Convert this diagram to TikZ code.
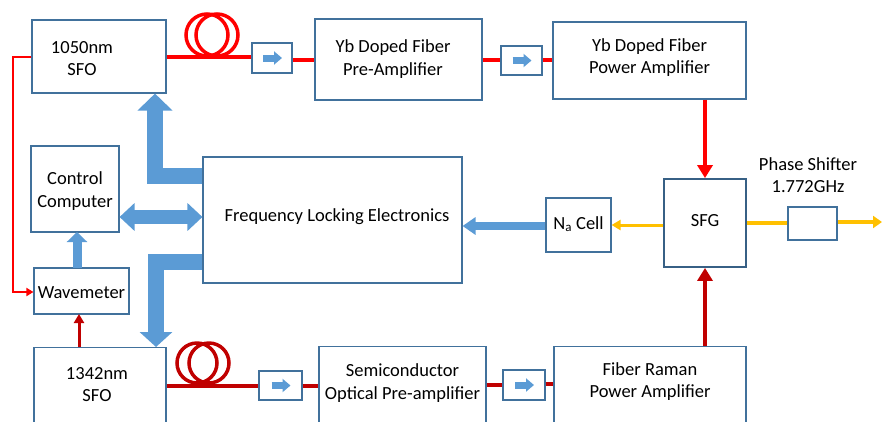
\documentclass[tikz,border=0pt]{standalone}
\usepackage{fontspec}
\setmainfont{Carlito}
\usetikzlibrary{arrows.meta,calc}
\definecolor{boxblue}{HTML}{41719C}
\definecolor{fillblue}{HTML}{5B9BD5}
\definecolor{lred}{HTML}{FF0000}
\definecolor{dred}{HTML}{C00000}
\definecolor{amber}{HTML}{FFC000}
\begin{document}
\begin{tikzpicture}[x=1pt,y=-1pt,
  box/.style={draw=boxblue, line width=1.1pt, inner sep=0pt},
  lbl/.style={align=center, inner sep=0pt, font=\fontsize{18.5}{22.5}\selectfont},
  fiber/.style={line width=4pt},
  blk/.style={draw=fillblue, line join=miter},
]
\useasboundingbox (0,0) rectangle (882,421);

% boxes
\node[box, minimum width=134pt, minimum height=73pt] (sfoA) at (99,56.5) {};
\node[lbl] (sfoAt) at (82,58.5) {1050nm\\SFO};
\node[box, minimum width=40pt, minimum height=30pt] (i1) at (272,58) {};
\node[box, minimum width=167pt, minimum height=81pt] (pre) at (398.5,59.5) {};
\node[lbl] (pret) at (393,59) {Yb Doped Fiber\\Pre-Amplifier};
\node[box, minimum width=41pt, minimum height=29pt] (i2) at (521.5,60.5) {};
\node[box, minimum width=193pt, minimum height=77pt] (pow) at (649.5,60.5) {};
\node[lbl] (powt) at (649.5,57.5) {Yb Doped Fiber\\Power Amplifier};

\node[box, line width=1.8pt, draw=boxblue!85!black, minimum width=82pt, minimum height=88pt] (sfg) at (705,223) {};
\node[lbl] (sfgt) at (705,221) {SFG};
\node[lbl] (pst) at (808,175) {Phase Shifter\\1.772GHz};
\node[box, minimum width=49pt, minimum height=33pt] (ps) at (812.5,223.5) {};
\node[box, minimum width=65pt, minimum height=54pt] (na) at (578.5,225) {};
\node[lbl] (nat) at (578.5,224) {N\textsubscript{a} Cell};

\node[box, minimum width=259pt, minimum height=126pt] (fle) at (332.5,220) {};
\node[lbl] (flet) at (337,217) {Frequency Locking Electronics};
\node[box, minimum width=88pt, minimum height=86pt] (cc) at (75,189) {};
\node[lbl] (cct) at (75,191) {Control\\Computer};
\node[box, minimum width=95pt, minimum height=46pt] (wm) at (81.5,291) {};
\node[lbl] (wmt) at (81.5,293) {Wavemeter};

\node[box, minimum width=132pt, minimum height=100pt, anchor=north] (sfoB) at (100,347) {};
\node[lbl] (sfoBt) at (97,384.5) {1342nm\\SFO};
\node[box, minimum width=43pt, minimum height=29pt] (i3) at (280.5,385.5) {};
\node[box, minimum width=167pt, minimum height=100pt, anchor=north] (semi) at (402.5,346) {};
\node[lbl] (semit) at (402.5,383) {Semiconductor\\Optical Pre-amplifier};
\node[box, minimum width=42pt, minimum height=30pt] (i4) at (524,385) {};
\node[box, minimum width=192pt, minimum height=100pt, anchor=north] (ram) at (650,346) {};
\node[lbl] (ramt) at (650,381.5) {Fiber Raman\\Power Amplifier};

% top fiber line with coil
\draw[fiber, lred] (sfoA.east |- 0,57) -- (i1.west |- 0,57);
\draw[line width=3.5pt, lred] (207,35) circle (21);
\draw[line width=3.5pt, lred] (217,35) circle (21);
\draw[fiber, lred] (i1.east |- 0,59.5) -- (pre.west |- 0,59.5);
\draw[fiber, lred] (pre.east |- 0,60) -- (i2.west |- 0,60);
\draw[fiber, lred] (i2.east |- 0,60) -- (pow.west |- 0,60);

% bottom fiber line with coil
\draw[fiber, dred] (sfoB.east |- 0,386) -- (i3.west |- 0,386);
\draw[line width=3.5pt, dred] (197,363) circle (20);
\draw[line width=3.5pt, dred] (209,363) circle (20);
\draw[fiber, dred] (i3.east |- 0,386) -- (semi.west |- 0,386);
\draw[fiber, dred] (semi.east |- 0,385) -- (i4.west |- 0,385);
\draw[fiber, dred] (i4.east |- 0,384) -- (ram.west |- 0,384);

% isolator arrows
\foreach \n in {i1,i2,i3,i4}{
  \draw[line width=7pt, fillblue, -{Triangle[length=8pt,width=13pt]}] ($(\n.center)+(-9,0)$) -- ($(\n.center)+(10,0)$);
}

% red arrows into SFG
\draw[fiber, lred, -{Triangle[length=13pt,width=15pt]}] (sfg.north |- pow.south) -- (sfg.north);
\draw[fiber, dred, -{Triangle[length=13pt,width=15pt]}] (sfg.south |- ram.north) -- (sfg.south);

% yellow lines
\draw[line width=3pt, amber, -{Triangle[length=9pt,width=10pt]}] (sfg.west |- 0,225) -- (na.east |- 0,225);
\draw[fiber, amber] (sfg.east |- 0,223) -- (ps.west |- 0,223);
\coordinate (outend) at (882,222);
\draw[fiber, amber, -{Triangle[length=9pt,width=12pt]}] (ps.east |- 0,222) -- (outend);

% wavemeter feeds
\coordinate (c1) at (13,57);
\coordinate (c2) at (13,292);
\draw[line width=2pt, lred, -{Triangle[length=7pt,width=8pt]}] (sfoA.west |- c1) -- (c1) -- (c2) -- (wm.west |- c2);
\draw[line width=3pt, dred, -{Triangle[length=9pt,width=10pt]}] (79,347) -- (79,314);

% blue block arrows
\draw[blk, line width=8pt, -{Triangle[length=13pt,width=17pt]}] (na.west |- 0,226) -- (fle.east |- 0,226);
\draw[blk, line width=14pt, {Triangle[length=15pt,width=27pt]}-{Triangle[length=15pt,width=27pt]}] (cc.east |- 0,217) -- (fle.west |- 0,217);
\draw[blk, line width=9pt, -{Triangle[length=10pt,width=20pt]}] (77,268) -- (77,232);
\coordinate (lt) at (155,175.5);
\draw[blk, line width=16pt, -{Triangle[length=17pt,width=34pt]}] (fle.west |- lt) -- (lt) -- (lt |- sfoA.south);
\coordinate (lb) at (156,261.5);
\draw[blk, line width=16pt, -{Triangle[length=15pt,width=32pt]}] (fle.west |- lb) -- (lb) -- (lb |- sfoB.north);
\end{tikzpicture}
\end{document}
